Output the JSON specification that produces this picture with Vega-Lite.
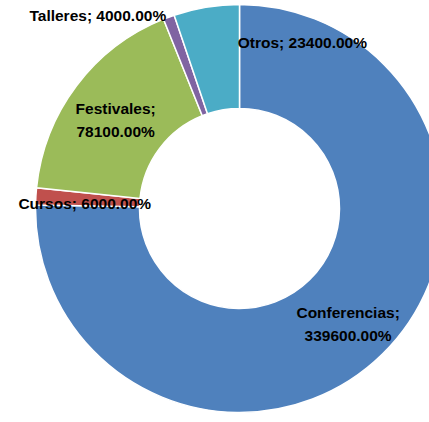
{
  "$schema": "https://vega.github.io/schema/vega-lite/v6.json",
  "autosize": {"type": "none"},
  "width": 377,
  "height": 417,
  "padding": {"left": 51, "top": 0, "right": 1, "bottom": 5},
  "background": "white",
  "view": {"stroke": null},
  "data": {
    "values": [
      {"cat": "Conferencias", "value": 339600, "order": 1},
      {"cat": "Cursos", "value": 6000, "order": 2},
      {"cat": "Festivales", "value": 78100, "order": 3},
      {"cat": "Talleres", "value": 4000, "order": 4},
      {"cat": "Otros", "value": 23400, "order": 5}
    ]
  },
  "transform": [
    {"stack": "value", "groupby": [], "sort": [{"field": "order", "order": "ascending"}], "as": ["v0", "v1"]},
    {"calculate": "(datum.v0 + datum.v1) / 2", "as": "mid"},
    {"calculate": "datum.cat + (indexof(['Conferencias','Festivales'], datum.cat) >= 0 ? ';\\n' : '; ') + format(datum.value, '.2f') + '%'", "as": "label"}
  ],
  "layer": [
    {
      "mark": {"type": "arc", "radius": 204, "radius2": 100, "stroke": "white", "strokeWidth": 1.5},
      "encoding": {
        "theta": {"field": "v0", "type": "quantitative", "scale": {"domain": [0, 451100]}},
        "theta2": {"field": "v1"},
        "color": {
          "field": "cat", "type": "nominal", "legend": null,
          "scale": {
            "domain": ["Conferencias", "Cursos", "Festivales", "Talleres", "Otros"],
            "range": ["#4F81BD", "#C0504D", "#9BBB59", "#8064A2", "#4BACC6"]
          }
        }
      }
    },
    {
      "transform": [{"filter": "indexof(['Conferencias','Festivales'], datum.cat) >= 0"}],
      "mark": {"type": "text", "radius": 155, "dy": -6, "font": "Liberation Sans", "fontWeight": "bold", "fontSize": 15.5, "lineBreak": "\n", "lineHeight": 23, "color": "black", "align": "center", "baseline": "middle"},
      "encoding": {
        "theta": {"field": "mid", "type": "quantitative", "stack": null, "scale": {"domain": [0, 451100]}},
        "text": {"field": "label", "type": "nominal"}
      }
    },
    {
      "transform": [{"filter": "datum.cat == 'Cursos'"}],
      "mark": {"type": "text", "radius": 155, "dy": 5, "font": "Liberation Sans", "fontWeight": "bold", "fontSize": 15.5, "color": "black", "align": "center", "baseline": "middle"},
      "encoding": {
        "theta": {"field": "mid", "type": "quantitative", "stack": null, "scale": {"domain": [0, 451100]}},
        "text": {"field": "label", "type": "nominal"}
      }
    },
    {
      "transform": [{"filter": "datum.cat == 'Talleres'"}],
      "mark": {"type": "text", "radius": 155, "dx": -88, "dy": -47, "font": "Liberation Sans", "fontWeight": "bold", "fontSize": 15.5, "color": "black", "align": "center", "baseline": "middle"},
      "encoding": {
        "theta": {"field": "mid", "type": "quantitative", "stack": null, "scale": {"domain": [0, 451100]}},
        "text": {"field": "label", "type": "nominal"}
      }
    },
    {
      "transform": [{"filter": "datum.cat == 'Otros'"}],
      "mark": {"type": "text", "radius": 155, "dx": 88, "dy": -13, "font": "Liberation Sans", "fontWeight": "bold", "fontSize": 15.5, "color": "black", "align": "center", "baseline": "middle"},
      "encoding": {
        "theta": {"field": "mid", "type": "quantitative", "stack": null, "scale": {"domain": [0, 451100]}},
        "text": {"field": "label", "type": "nominal"}
      }
    }
  ]
}
